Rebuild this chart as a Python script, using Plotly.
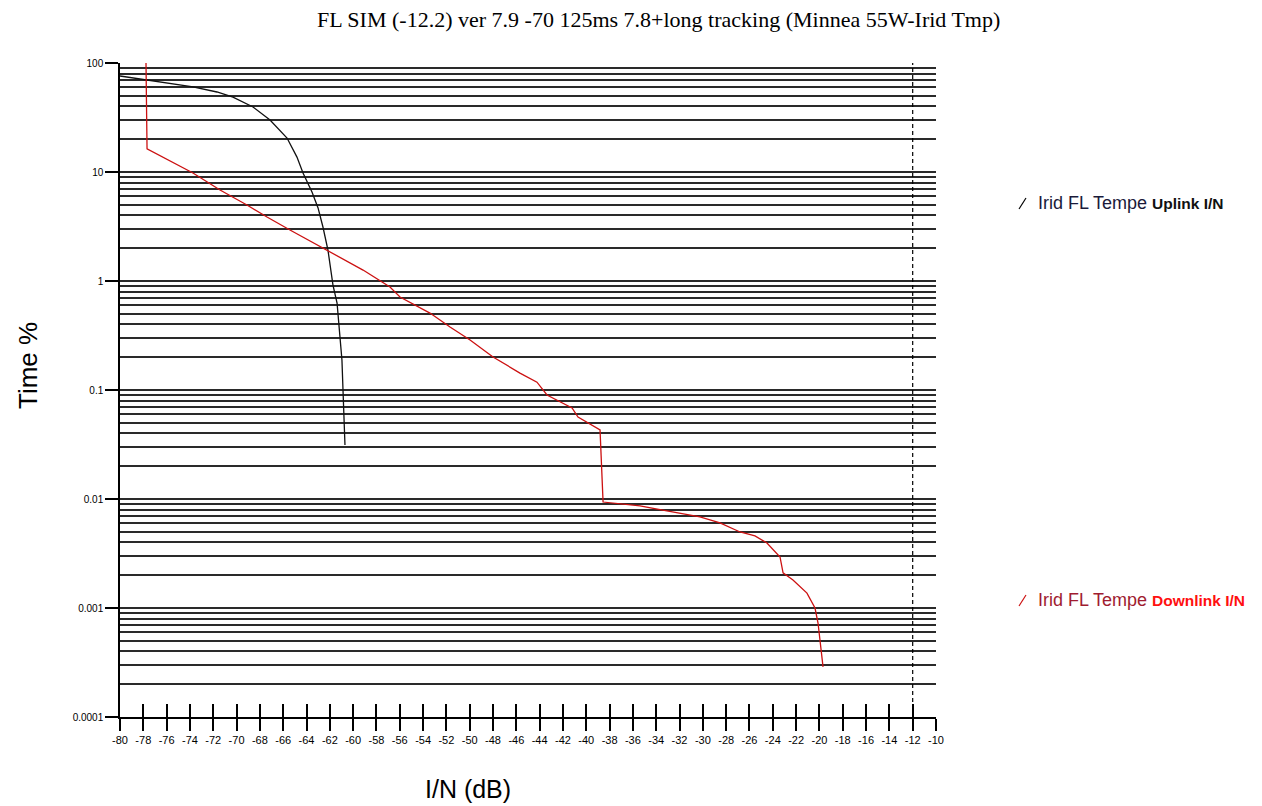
import plotly.graph_objects as go

# ---- data ----
uplink_x = [-80.0, -77.68, -76.31, -73.74, -71.68, -70.31, -68.59, -67.13, -65.67, -64.82,
            -64.30, -63.53, -63.01, -62.59, -62.16, -61.73, -61.38, -61.13, -60.96, -60.87,
            -60.78, -60.70]
uplink_y = [76.0, 69.8, 67.0, 60.3, 54.2, 48.7, 39.5, 30.0, 20.5, 13.7,
            9.8, 6.56, 4.68, 3.13, 1.92, 0.918, 0.628, 0.306, 0.188, 0.100,
            0.053, 0.0313]

downlink_x = [-77.77, -77.68, -73.74, -71.42, -69.11, -67.39, -65.42, -62.24, -59.15, -56.84,
              -55.98, -53.41, -51.69, -49.97, -48.00, -45.69, -44.23, -43.37, -42.25, -41.22,
              -40.71, -39.85, -38.82, -38.56, -36.51, -35.39, -30.25, -28.53, -26.81, -25.53,
              -24.50, -23.38, -23.12, -22.27, -21.07, -20.38, -20.12, -19.95, -19.69]
downlink_y = [100.0, 16.3, 9.8, 6.84, 4.98, 3.86, 2.94, 1.92, 1.26, 0.881,
              0.713, 0.508, 0.378, 0.288, 0.201, 0.143, 0.118, 0.0900, 0.0776, 0.0684,
              0.0565, 0.0498, 0.0430, 0.00938, 0.00881, 0.00863, 0.00684, 0.00603, 0.00498, 0.00458,
              0.00395, 0.00294, 0.00210, 0.00181, 0.00137, 0.00100, 0.000728, 0.000477, 0.000288]

x_tick_vals = list(range(-80, -9, 2))
x_tick_labels = [str(v) for v in x_tick_vals]
y_decades = [0.0001, 0.001, 0.01, 0.1, 1, 10, 100]
y_decade_labels = ["0.0001", "0.001", "0.01", "0.1", "1", "10", "100"]
y_grid_vals = [m * d for d in [0.0001, 0.001, 0.01, 0.1, 1, 10] for m in range(2, 10)]

title_text = "FL SIM (-12.2) ver 7.9 -70 125ms 7.8+long tracking (Minnea 55W-Irid Tmp)"

W, H = 1262, 806
L, R, T, B = 120, 936, 63, 717
pw, ph = R - L, B - T

def px(xp):
    return (xp - L) / pw

def py(yp):
    return (B - yp) / ph

fig = go.Figure()
fig.add_trace(go.Scatter(x=uplink_x, y=uplink_y, mode="lines",
                         line=dict(color="#111111", width=1.3), showlegend=False))
fig.add_trace(go.Scatter(x=downlink_x, y=downlink_y, mode="lines",
                         line=dict(color="#cc1111", width=1.3), showlegend=False))
# dummy trace for upward tick axis
fig.add_trace(go.Scatter(x=[None], y=[None], xaxis="x2", yaxis="y", showlegend=False,
                         hoverinfo="skip"))

grid_col = "#2a2a2a"
fig.update_layout(
    width=W, height=H,
    margin=dict(l=L, r=W - R, t=T, b=H - B),
    paper_bgcolor="white", plot_bgcolor="white",
    showlegend=False,
    xaxis=dict(range=[-80, -10], tickvals=x_tick_vals, ticktext=x_tick_labels,
               ticks="outside", ticklen=12, tickwidth=1.5, tickcolor="black",
               showline=True, linecolor="black", linewidth=1.5,
               showgrid=False, zeroline=False,
               tickfont=dict(family="Arial, Liberation Sans", size=11, color="black")),
    xaxis2=dict(range=[-80, -10], overlaying="x", anchor="y", side="bottom",
                tickvals=x_tick_vals[1:-1], ticks="inside", ticklen=13, tickwidth=1.5,
                tickcolor="black", showticklabels=False, showline=False,
                showgrid=False, zeroline=False),
    yaxis=dict(type="log", range=[-4, 2], tickvals=y_decades, ticktext=y_decade_labels,
               ticks="outside", ticklen=13, tickwidth=1.5, tickcolor="black",
               showline=True, linecolor="black", linewidth=1.5,
               showgrid=True, gridcolor=grid_col, gridwidth=1.6, zeroline=False,
               minor=dict(tickvals=y_grid_vals, showgrid=True, gridcolor=grid_col,
                          gridwidth=1.6, ticks=""),
               tickfont=dict(family="Arial, Liberation Sans", size=10, color="black")),
    shapes=[
        dict(type="line", xref="x", yref="paper", x0=-12, x1=-12, y0=-0.02, y1=1,
             line=dict(color="black", width=1.2, dash="4px,3px")),
        dict(type="line", xref="paper", yref="paper", x0=px(1019), x1=px(1026),
             y0=py(209), y1=py(198), line=dict(color="black", width=1.2)),
        dict(type="line", xref="paper", yref="paper", x0=px(1019), x1=px(1026),
             y0=py(606), y1=py(595), line=dict(color="#cc1111", width=1.2)),
    ],
    annotations=[
        dict(text=title_text, xref="paper", yref="paper", x=px(658), y=py(19),
             showarrow=False, xanchor="center", yanchor="middle",
             font=dict(family="Liberation Serif, Times New Roman", size=22, color="black")),
        dict(text="Time %", xref="paper", yref="paper", x=px(28), y=py(366),
             showarrow=False, textangle=-90, xanchor="center", yanchor="middle",
             font=dict(family="Arial, Liberation Sans", size=26, color="black")),
        dict(text="I/N (dB)", xref="paper", yref="paper", x=px(468), y=py(789),
             showarrow=False, xanchor="center", yanchor="middle",
             font=dict(family="Arial, Liberation Sans", size=25, color="black")),
        dict(text="<span style='color:#1a1a3a;font-size:18px'>Irid FL Tempe</span> "
                  "<b style='color:#111111;font-size:15.5px'>Uplink I/N</b>",
             xref="paper", yref="paper", x=px(1036), y=py(203),
             showarrow=False, xanchor="left", yanchor="middle",
             font=dict(family="Arial, Liberation Sans", size=18, color="black")),
        dict(text="<span style='color:#a01c30;font-size:18px'>Irid FL Tempe</span> "
                  "<b style='color:#ff1010;font-size:15.5px'>Downlink I/N</b>",
             xref="paper", yref="paper", x=px(1036), y=py(600),
             showarrow=False, xanchor="left", yanchor="middle",
             font=dict(family="Arial, Liberation Sans", size=18, color="black")),
    ],
)

fig.write_html("out.html")
